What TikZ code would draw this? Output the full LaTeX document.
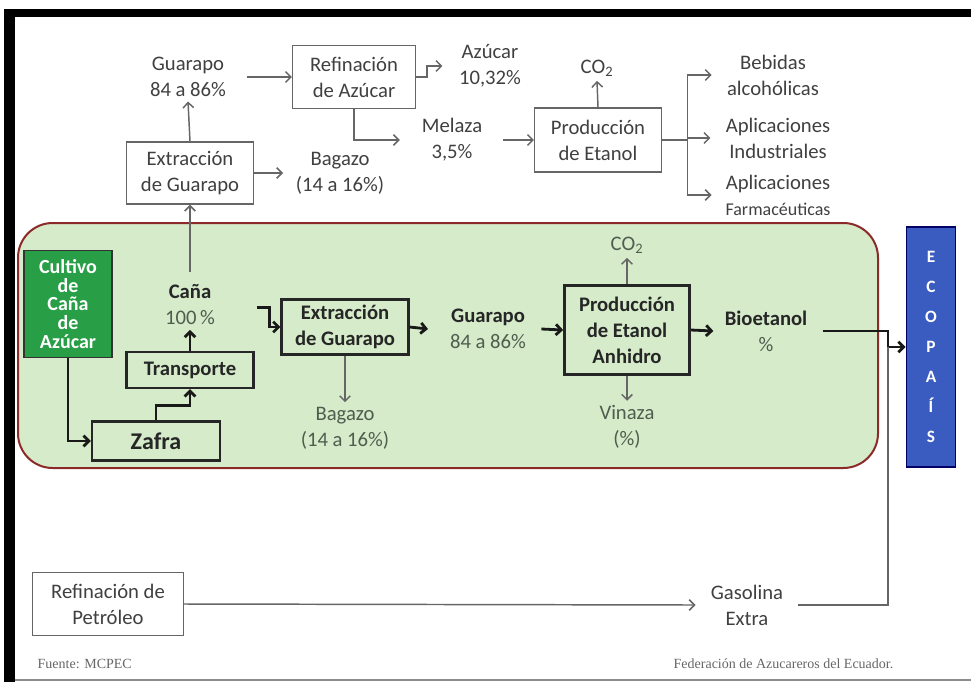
\documentclass[tikz,border=0pt]{standalone}
\usepackage{fontspec}
\setmainfont{Carlito}
\newfontfamily\footfont{Liberation Serif}
\usetikzlibrary{arrows.meta,positioning,calc}

\definecolor{zonegreen}{RGB}{213,235,201}
\definecolor{zonered}{RGB}{140,42,42}
\definecolor{cultgreen}{RGB}{40,158,70}
\definecolor{ecoblue}{RGB}{58,91,192}
\definecolor{txtgray}{RGB}{64,64,64}
\definecolor{zonetxt}{RGB}{78,94,78}

\tikzset{
  plainbox/.style={draw=black!60,line width=1.1pt,fill=white,align=center,text=txtgray,inner sep=2pt},
  zonebox/.style={draw=black!85,line width=1.8pt,align=center,text=black!85,
                  font=\bfseries\fontsize{15.5}{19.5}\selectfont,inner sep=2pt},
  lbl/.style={align=center,text=txtgray},
  zonelbl/.style={align=center,text=zonetxt},
  thinline/.style={draw=black!60,line width=1.1pt},
  thinarrow/.style={thinline,-{Straight Barb[length=4pt,width=8pt]}},
  thickarrow/.style={draw=black!90,line width=2.1pt,-{Straight Barb[length=4pt,width=8pt]}},
}

\begin{document}
\begin{tikzpicture}[x=0.75pt,y=-0.75pt,font=\fontsize{15.5}{19.5}\selectfont]

  \useasboundingbox (0,0) rectangle (971,682);

  % -- FRAME ---------------------------------------------------------
  \fill[black] (4,9) rectangle (971,17);
  \fill[black] (4,9) rectangle (15,682);
  \draw[black!45,line width=0.8pt] (15,680) -- (971,680);

  % -- SUGAR ROUTE (top) ---------------------------------------------
  \node[lbl] (guaTop) at (188,77) {Guarapo\\84 a 86\%};
  \node[plainbox,minimum width=92pt,minimum height=47pt] (refAz) at (354,77) {Refinación\\de Azúcar};
  \node[lbl] (azucar) at (490,66) {Azúcar\\10,32\%};
  \node[lbl] (melaza) at (452,140) {Melaza\\3,5\%};
  \node[plainbox,minimum width=95pt,minimum height=48pt] (prodEt) at (598,140) {Producción\\de Etanol};
  \node[lbl] (co2Top) at (597,68) {CO\textsubscript{2}};
  \node[lbl] (bebidas) at (773,75) {Bebidas\\alcohólicas};
  \node[lbl] (aplInd) at (778,138) {Aplicaciones\\Industriales};
  \node[lbl] (aplFar) at (778,195) {Aplicaciones\\{\fontsize{13.5}{16}\selectfont Farmacéuticas}};
  \node[plainbox,minimum width=95pt,minimum height=46.5pt] (extTop) at (190,173) {Extracción\\de Guarapo};
  \node[lbl] (bagTop) at (340,173) {Bagazo\\(14 a 16\%)};

  \draw[thinarrow] ([xshift=12pt]guaTop.east) -- (refAz.west);
  \draw[thinarrow] (refAz.east) -- ++(11,0) |- ([xshift=-9pt]azucar.west);
  \draw[thinarrow] (refAz.south) |- ([xshift=-13pt]melaza.west);
  \draw[thinarrow] ([xshift=12pt]melaza.east) -- (prodEt.west);
  \draw[thinarrow] (prodEt.north) -- (co2Top.south);
  \coordinate (split) at ($(prodEt.east)+(19pt,0)$);
  \draw[thinline] (prodEt.east) -- (split);
  \draw[thinarrow] (split) |- ([xshift=-8pt]bebidas.west);
  \draw[thinarrow] (split) |- ([xshift=-8pt]aplInd.west);
  \draw[thinarrow] (split) |- ([xshift=-7pt]aplFar.west);
  \draw[thinarrow] (extTop.north) -- (guaTop.south);
  \draw[thinarrow] (extTop.east) -- ([xshift=-6pt]bagTop.west);

  % -- BIOETHANOL ZONE -----------------------------------------------
  \filldraw[fill=zonegreen,draw=zonered,line width=1.5pt,rounded corners=26pt] (18,223) rectangle (878,468);

  \node[draw=black!80,line width=1.2pt,fill=cultgreen,text=white,align=center,
        font=\bfseries\fontsize{15}{14}\selectfont,inner sep=0.5pt,
        minimum width=66pt,minimum height=80pt] (cultivo) at (68,304) {Cultivo\\de\\Caña\\de\\Azúcar};
  \node[zonebox,minimum width=96pt,minimum height=29.5pt,font=\bfseries\fontsize{18}{20}\selectfont] (zafra) at (156,441) {Zafra};
  \node[zonebox,minimum width=95pt,minimum height=27pt] (transp) at (190,370) {Transporte};
  \node[zonelbl] (cana) at (190,305) {\textbf{\color{black!85}Caña}\\100\,\%};
  \node[zonebox,minimum width=95pt,minimum height=41pt] (extGr) at (345,327) {Extracción\\de Guarapo};
  \node[zonelbl] (bagGr) at (345,428) {Bagazo\\(14 a 16\%)};
  \node[zonelbl] (guaGr) at (488,329) {\textbf{\color{black!85}Guarapo}\\84 a 86\%};
  \node[zonebox,minimum width=94pt,minimum height=67pt] (prodAnh) at (627,330) {Producción\\de Etanol\\Anhidro};
  \node[zonelbl] (co2Gr) at (627,245) {CO\textsubscript{2}};
  \node[zonelbl] (vinaza) at (627,427) {Vinaza\\(\%)};
  \node[zonelbl] (bioet) at (766,331) {\textbf{\color{black!85}Bioetanol}\\\%};

  \draw[thickarrow] (cultivo.south) |- (zafra.west);
  \draw[thickarrow] (zafra.north) -- ++(0,-15) -| (transp.south);
  \draw[thickarrow] (transp.north) -- (cana.south);
  \draw[thinarrow] ([yshift=6pt]cana.north) -- (extTop.south);
  \draw[thickarrow] ([xshift=28pt,yshift=-2pt]cana.east) -- ++(13,0) |- (extGr.west);
  \draw[thickarrow] (extGr.east) -- ([xshift=-13pt]guaGr.west);
  \draw[thinarrow] (extGr.south) -- (bagGr.north);
  \draw[thickarrow] ([xshift=8pt]guaGr.east) -- (prodAnh.west);
  \draw[thinarrow] (prodAnh.north) -- (co2Gr.south);
  \draw[thinarrow] (prodAnh.south) -- (vinaza.north);
  \draw[thickarrow] (prodAnh.east) -- ([xshift=-5pt]bioet.west);

  % -- ECOPAIS & GASOLINE --------------------------------------------
  \node[draw=black!60!blue,line width=1pt,fill=ecoblue,text=white,align=center,
        font=\bfseries\fontsize{13}{22.5}\selectfont,
        minimum width=37pt,minimum height=180pt] (ecopais) at (931,347) {E\\C\\O\\P\\A\\Í\\S};
  \coordinate (joint) at (888,347);
  \draw[thickarrow] ([xshift=8pt]bioet.east) -| (joint) -- (ecopais.west);

  \node[plainbox,minimum width=113pt,minimum height=47pt] (refPet) at (108,604) {Refinación de\\Petróleo};
  \node[lbl] (gasolina) at (747,605) {Gasolina\\Extra};
  \draw[thinarrow] (refPet.east) -- ([xshift=-8pt]gasolina.west);
  \draw[thinline] ([xshift=8pt]gasolina.east) -| (joint);

  % -- SOURCES -------------------------------------------------------
  \node[anchor=base west,text=black!60,font=\footfont\fontsize{10.5}{12}\selectfont] (fuente) at (33,668) {Fuente: MCPEC};
  \node[anchor=base east,text=black!60,font=\footfont\fontsize{10.5}{12}\selectfont] (federa) at (898,668) {Federación de Azucareros del Ecuador.};

\end{tikzpicture}
\end{document}
